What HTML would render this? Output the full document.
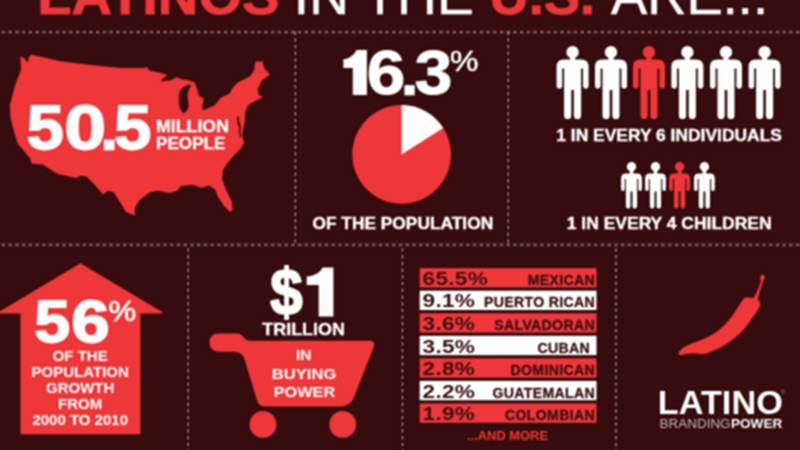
<!DOCTYPE html>
<html>
<head>
<meta charset="utf-8">
<title>Latinos in the U.S.</title>
<style>
html,body{margin:0;padding:0;background:#360c0e;}
body{width:800px;height:450px;overflow:hidden;position:relative;font-family:"Liberation Sans",sans-serif;}
svg{position:absolute;left:0;top:0;display:block;}
text{font-family:"Liberation Sans",sans-serif;}
.b{font-weight:bold;}
.w{fill:#fff;}
.r{fill:#ef3739;}
.d{fill:#3a0f12;}
</style>
</head>
<body>
<svg id="art" width="800" height="450" viewBox="0 0 800 450">
<defs>
  <!-- adult figure centred at x=0 -->
  <g id="man">
    <circle cx="0" cy="52.2" r="6.15"/>
    <path d="M-2.6,56 H2.6 V59.4 H8.6 Q16,59.4 16,66.8 V85.7 Q16,88.5 13.2,88.5 Q10.4,88.5 10.4,85.7 V68.4 H8.5 V115.4 Q8.5,119 4.9,119 Q1.3,119 1.3,115.4 V90 H-1.3 V115.4 Q-1.3,119 -4.9,119 Q-8.5,119 -8.5,115.4 V68.4 H-10.4 V85.7 Q-10.4,88.5 -13.2,88.5 Q-16,88.5 -16,85.7 V66.8 Q-16,59.4 -8.6,59.4 H-2.6 Z"/>
  </g>
  <!-- child figure centred at x=0, absolute y -->
  <g id="kid">
    <circle cx="0" cy="166.8" r="4.7"/>
    <path d="M-1.8,170 H1.8 V173.4 H5.7 Q10.4,173.4 10.4,178.1 V189.2 Q10.4,191 8.6,191 Q6.8,191 6.8,189.2 V179 H5.6 V206.2 Q5.6,208.6 3.3,208.6 Q1,208.6 1,206.2 V191.5 H-1 V206.2 Q-1,208.6 -3.3,208.6 Q-5.6,208.6 -5.6,206.2 V179 H-6.8 V189.2 Q-6.8,191 -8.6,191 Q-10.4,191 -10.4,189.2 V178.1 Q-10.4,173.4 -5.7,173.4 H-1.8 Z"/>
  </g>
</defs>
<filter id="soft" x="0" y="0" width="800" height="450" filterUnits="userSpaceOnUse" color-interpolation-filters="sRGB"><feConvolveMatrix order="7" divisor="10000" kernelMatrix="4 -8 -54 -84 -54 -8 4 -8 16 108 168 108 16 -8 -54 108 729 1134 729 108 -54 -84 168 1134 1764 1134 168 -84 -54 108 729 1134 729 108 -54 -8 16 108 168 108 16 -8 4 -8 -54 -84 -54 -8 4" edgeMode="duplicate" preserveAlpha="true"/></filter>
<g id="content" filter="url(#soft)">
<rect width="800" height="450" fill="#360c0e"/>

<!-- dotted grid -->
<g id="grid" fill="none">
  <path d="M-5.1,32.1 H800 M-5.1,244.85 H800" stroke="#7b5457" stroke-width="2.7" stroke-dasharray="3.7 3.03"/>
  <path d="M295.3,31.6 V243.5 M508.2,31.6 V243.5" stroke="#ad9496" stroke-width="1.3" stroke-dasharray="3.4 3.3"/>
  <path d="M188.1,248.4 V450 M402.5,248.4 V450 M616,248.4 V450" stroke="#ad9496" stroke-width="1.3" stroke-dasharray="3.4 3.3"/>
</g>

<!-- title -->
<g id="title" font-size="54">
  <text class="b r" stroke="#ef3739" stroke-width="0.9" x="37.2" y="14.3" textLength="242.4" lengthAdjust="spacingAndGlyphs">LATINOS</text>
  <text class="w" stroke="#fff" stroke-width="0.5" x="293.8" y="14.3" textLength="180" lengthAdjust="spacingAndGlyphs">IN THE</text>
  <text class="b r" stroke="#ef3739" stroke-width="0.9" x="489.6" y="14.3" textLength="105.5" lengthAdjust="spacingAndGlyphs">U.S.</text>
  <text class="w" stroke="#fff" stroke-width="0.5" x="611" y="14.3" textLength="157" lengthAdjust="spacingAndGlyphs">ARE...</text>
</g>

<!-- US map -->
<g id="usa">
  <path class="r" d="M20.4,56.3 L24,58 L27.5,62.6 L29,57 L31,54.4 L60.5,61.2 L90.7,65 L120,68 L144.8,68 L147,67 L149.3,70.4 L160,72.7 L167.4,75 L163,78.5 L160,81.6 L170.5,80.2 L176.5,77.2 L182.5,79.5 L188.6,80.3 L194.6,82.5 L197.7,90.8 L199,96 L203.7,98.4 L202.7,105 L202,109 L204,110 L214.8,105.3 L220.8,97.8 L229.9,93.2 L232,88.7 L237.4,82.7 L250,76.6 L254,70.6 L255.6,61.5 L262.4,61.5 L264.6,69 L270,74.4 L261.6,81 L257.8,88.7 L258.6,94.8 L263,97 L255.6,100.8 L248,105.3 L245,113 L245,120 L243.5,127.7 L242,135.2 L244.2,142.8 L240.5,148.8 L232.9,156.4 L226.8,164 L223,170 L222,178.7 L225.8,189.3 L231.8,201.4 L232.6,209.7 L230,212 L224,206 L218,196.8 L215,189.3 L209,185.5 L201.6,187.8 L192.5,184.8 L180.5,186.3 L177.4,190.8 L170,193 L157.8,190.8 L150,192.3 L139.6,200 L135,207.4 L134.6,215.5 L126,212 L119.7,201.4 L113.7,192.3 L107.7,190.8 L103,194.6 L94,184 L86.5,176.4 L80.5,175.7 L76,178 L57.8,174 L42.7,164.4 L31.3,163.6 L30.6,159 L24.5,151.5 L18,144 L13.6,130 L10.6,118 L9.8,104.5 L11.3,100.5 L15,85.3 L21,70 Z"/>
  <!-- Lake Michigan -->
  <path fill="#360c0e" d="M188.9,84.2 L182.8,87.4 L179.8,91 L178.8,97 L178.9,103 L180.2,109 L183.2,113.5 L186.9,111 L188.7,106 L188.1,100 L187.4,95.3 L188.6,90 L191,85.6 Z"/>
  <path fill="#360c0e" d="M237,116.3 L238.7,116.8 L239.4,122 L241,127 L240.2,131 L241.2,137.5 L240,138 L238.8,132 L239.2,128 L237.6,123 Z"/>
  <text class="b w" stroke="#fff" stroke-width="1.8" font-size="63.35" transform="translate(26.80,149.08) scale(1.050,1)">5</text>
  <text class="b w" stroke="#fff" stroke-width="1.8" font-size="63.70" transform="translate(64.50,149.18) scale(1.172,1)">0</text>
  <text class="b w" stroke="#fff" stroke-width="0.4" font-size="67.15" transform="translate(99.37,150.20) scale(1.063,1)">.</text>
  <text class="b w" stroke="#fff" stroke-width="1.8" font-size="63.35" transform="translate(114.30,149.08) scale(1.050,1)">5</text>
  <text class="b w" stroke="#fff" stroke-width="0.3" font-size="16.8" x="156" y="131.6" textLength="73" lengthAdjust="spacingAndGlyphs">MILLION</text>
  <text class="b w" stroke="#fff" stroke-width="0.3" font-size="16.8" x="156" y="148.6" textLength="69.5" lengthAdjust="spacingAndGlyphs">PEOPLE</text>
</g>

<!-- pie -->
<g id="pie">
  <path class="w" d="M366.9,94.9 V49.9 H356.5 C354.5,54.5 350,58.5 343.4,59.2 V68 H352.8 V94.9 Z"/>
  <text class="b w" stroke="#fff" stroke-width="1.1" font-size="62.57" transform="translate(366.83,93.94) scale(1.105,1)">6</text>
  <text class="b w" stroke="#fff" stroke-width="0.4" font-size="65.13" transform="translate(400.37,94.70) scale(1.037,1)">.</text>
  <text class="b w" stroke="#fff" stroke-width="1.1" font-size="62.44" transform="translate(414.65,93.85) scale(1.080,1)">3</text>
  <text class="w" stroke="#fff" stroke-width="0.5" font-size="29.5" x="450" y="70.8" textLength="28.5" lengthAdjust="spacingAndGlyphs">%</text>
  <circle class="r" cx="401.6" cy="154.4" r="49.3"/>
  <path class="w" d="M401.6,154.4 L401.6,105.1 A49.3,49.3 0 0 1 443.18,127.91 Z"/>
  <text class="b w" stroke="#fff" stroke-width="0.4" font-size="16.6" x="312.4" y="229" textLength="180.8" lengthAdjust="spacingAndGlyphs">OF THE POPULATION</text>
</g>

<!-- people -->
<g id="people">
  <use href="#man" x="572.6" class="w"/>
  <use href="#man" x="611" class="w"/>
  <use href="#man" x="649" class="r"/>
  <use href="#man" x="687.4" class="w"/>
  <use href="#man" x="726" class="w"/>
  <use href="#man" x="764.6" class="w"/>
  <text class="b w" stroke="#fff" stroke-width="0.35" font-size="16.2" x="556.3" y="140.8" textLength="225.6" lengthAdjust="spacingAndGlyphs">1 IN EVERY 6 INDIVIDUALS</text>
  <use href="#kid" x="631.5" class="w"/>
  <use href="#kid" x="655.5" class="w"/>
  <use href="#kid" x="679.6" class="r"/>
  <use href="#kid" x="704.4" class="w"/>
  <text class="b w" stroke="#fff" stroke-width="0.35" font-size="15.9" x="566.8" y="228.8" textLength="204.8" lengthAdjust="spacingAndGlyphs">1 IN EVERY 4 CHILDREN</text>
</g>

<!-- arrow -->
<g id="arrow">
  <path class="r" d="M80.5,263.3 L162.6,312.3 L162.6,313.5 L140.4,313.5 L140.4,434.3 L20.5,434.3 L20.5,313.5 L-1,313.5 L-1,311.8 Z"/>
  <text class="b w" stroke="#fff" stroke-width="1.8" font-size="59.05" transform="translate(34.51,341.72) scale(1.081,1)">5</text>
  <text class="b w" stroke="#fff" stroke-width="1.8" font-size="59.46" transform="translate(71.53,341.82) scale(1.152,1)">6</text>
  <text class="w" stroke="#fff" stroke-width="0.7" font-size="29.5" x="108.5" y="320.6" textLength="27.6" lengthAdjust="spacingAndGlyphs">%</text>
  <g class="b w" font-size="15" text-anchor="middle">
    <text x="80.2" y="360.9">OF THE</text>
    <text x="80.2" y="376.9">POPULATION</text>
    <text x="80.2" y="392.8">GROWTH</text>
    <text x="80.2" y="408.7">FROM</text>
    <text x="80.2" y="424.7">2000 TO 2010</text>
  </g>
</g>

<!-- cart -->
<g id="cart">
  <g stroke="#fff" stroke-width="2" stroke-linejoin="round"><text class="b w" font-size="65.4" transform="translate(270.2,313.5) scale(0.89,1)">$</text></g>
  <path class="w" d="M333.4,316.4 V267.6 H322.5 C320.5,272.5 314,276.3 306.7,276.6 V285 H318.7 V316.4 Z"/>
  <text class="b w" stroke="#fff" stroke-width="0.4" font-size="17" x="262.3" y="334.5" textLength="82.6" lengthAdjust="spacingAndGlyphs">TRILLION</text>
  <path class="r" d="M218.6,333.5 H238 C242.5,333.5 244,340.7 250,340.7 H369 Q375.6,340.7 373.9,346.6 L354.6,396 Q350.5,406.5 341,406.5 H266 Q259.6,406.5 257.6,402 L244.5,359 Q242.5,351.7 233,351.7 H218.6 Q209.6,351.7 209.6,342.6 Q209.6,333.5 218.6,333.5 Z"/>
  <circle class="r" cx="263" cy="424.4" r="13.4"/>
  <circle class="r" cx="342.7" cy="424.4" r="13.4"/>
  <g class="b w" font-size="15.5" text-anchor="middle">
    <text x="303.8" y="359.8">IN</text>
    <text x="304.1" y="378.8" textLength="64.6" lengthAdjust="spacingAndGlyphs">BUYING</text>
    <text x="304.4" y="396.7" textLength="61.5" lengthAdjust="spacingAndGlyphs">POWER</text>
  </g>
</g>

<!-- table -->
<g id="table">
  <g id="rows">
    <rect class="r" x="419.7" y="268.15" width="176.8" height="19.3"/>
    <rect class="w" x="419.7" y="290.70" width="176.8" height="19.3"/>
    <rect class="r" x="419.7" y="313.25" width="176.8" height="19.3"/>
    <rect class="w" x="419.7" y="335.80" width="176.8" height="19.3"/>
    <rect class="r" x="419.7" y="358.35" width="176.8" height="19.3"/>
    <rect class="w" x="419.7" y="380.90" width="176.8" height="19.3"/>
    <rect class="r" x="419.7" y="403.45" width="176.8" height="19.3"/>
  </g>
  <g class="b d" font-size="18.8" letter-spacing="0.25">
    <text transform="translate(422.6,284.85) scale(1.2,1)">65.5%</text>
    <text transform="translate(422.6,307.40) scale(1.2,1)">9.1%</text>
    <text transform="translate(422.6,329.95) scale(1.2,1)">3.6%</text>
    <text transform="translate(422.6,352.50) scale(1.2,1)">3.5%</text>
    <text transform="translate(422.6,375.05) scale(1.2,1)">2.8%</text>
    <text transform="translate(422.6,397.60) scale(1.2,1)">2.2%</text>
    <text transform="translate(422.6,420.15) scale(1.2,1)">1.9%</text>
  </g>
  <g class="b d" font-size="14.1" text-anchor="end" letter-spacing="0.32" stroke="#3a0f12" stroke-width="0.3">
    <text x="594.9" y="284.90">MEXICAN</text>
    <text x="594.9" y="307.45">PUERTO RICAN</text>
    <text x="594.9" y="330.00">SALVADORAN</text>
    <text x="589.9" y="352.55">CUBAN</text>
    <text x="594.9" y="375.10">DOMINICAN</text>
    <text x="594.9" y="397.65">GUATEMALAN</text>
    <text x="594.9" y="420.20">COLOMBIAN</text>
  </g>
  <text class="b r" font-size="12.5" x="467" y="440" textLength="81" lengthAdjust="spacingAndGlyphs">...AND MORE</text>
</g>

<!-- logo -->
<g id="logo">
  <path class="r" d="M744.3,297.9 C743.8,298.6 742.4,300.3 741.3,301.9 C740.2,303.4 739.4,304.9 737.9,307.2 C736.4,309.5 734.5,312.8 732.1,315.9 C729.7,319.0 726.6,323.0 723.5,326.0 C720.4,329.0 717.0,331.7 713.4,334.0 C709.8,336.3 705.4,338.1 701.8,339.7 C698.2,341.3 694.6,342.2 691.7,343.4 C688.8,344.6 686.5,345.7 684.5,347.0 C682.5,348.3 680.6,350.0 679.6,351.3 C678.6,352.6 678.6,354.4 678.4,355.0 C679.4,354.9 682.3,354.7 684.5,354.4 C686.7,354.1 688.6,353.4 691.7,353.3 C694.8,353.2 699.6,354.3 703.2,353.9 C706.8,353.5 709.8,352.3 713.4,350.8 C717.0,349.3 721.3,347.2 724.9,345.0 C728.5,342.8 731.6,340.7 735.0,337.8 C738.4,334.9 742.0,331.3 745.1,327.7 C748.2,324.1 751.4,319.5 753.8,316.1 C756.2,312.7 758.3,309.3 759.4,307.2 C760.5,305.1 760.3,304.6 760.2,303.5 C760.1,302.4 759.0,301.0 758.7,300.5 L757.6,299.6 C758.6,296 760.3,290 762.0,284.5 C762.5,282.5 763,281 763.6,279.8 C765.2,278.6 765.2,275.6 763.2,274.9 C761.2,274.2 759.6,276.2 760.4,278.4 C760.9,279.6 760.9,281 760.3,283 C758.8,288 756.2,294 753.2,298.3 C750,297.4 747,297.2 744.3,297.9 Z"/>
  <text class="b w" font-size="34" x="657.8" y="413.8" textLength="125" lengthAdjust="spacingAndGlyphs">LATINO</text>
  <text fill="#b9a6a8" font-size="4.5" x="781.3" y="393.6">®</text>
  <text fill="#c9babb" font-size="12.3" x="659.6" y="427.9" textLength="71" lengthAdjust="spacingAndGlyphs">BRANDING</text>
  <text class="b w" font-size="12.3" x="731" y="427.9" textLength="51.3" lengthAdjust="spacingAndGlyphs">POWER</text>
</g>
</g>
</svg>
</body>
</html>
